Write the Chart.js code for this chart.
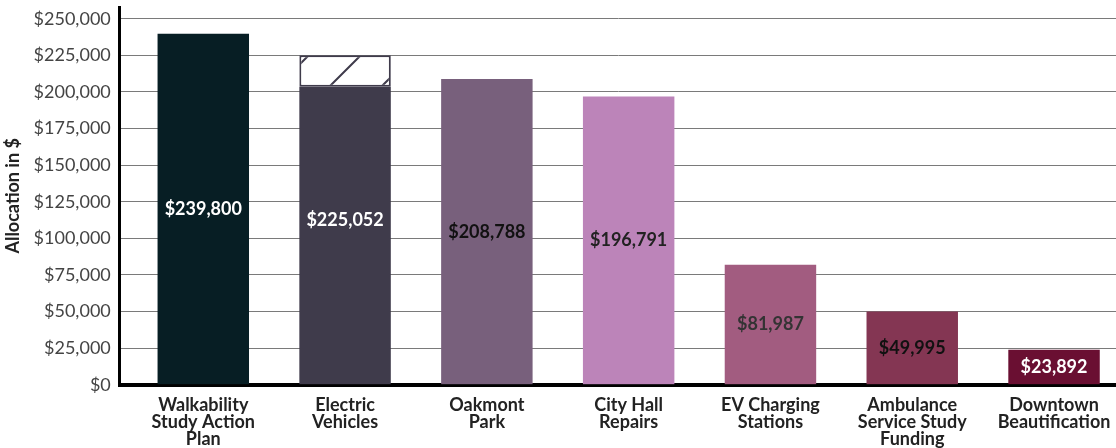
<!DOCTYPE html>
<html>
<head>
<meta charset="utf-8">
<script src="https://cdn.jsdelivr.net/npm/chart.js@4/dist/chart.umd.min.js"></script>
<style>
  html, body { margin: 0; padding: 0; background: #fff; }
  #wrap { width: 1116px; height: 448px; position: relative; }
</style>
</head>
<body>
<div id="wrap"><canvas id="chart" width="1116" height="448"></canvas></div>
<script>
// data
const categories = [
    ['Walkability', 'Study Action', 'Plan'],
    ['Electric', 'Vehicles'],
    ['Oakmont', 'Park'],
    ['City Hall', 'Repairs'],
    ['EV Charging', 'Stations'],
    ['Ambulance', 'Service Study', 'Funding'],
    ['Downtown', 'Beautification']
];
// solid part of each bar; Electric Vehicles has an outlined part on top
const solidValues = [239800, 203600, 208788, 196791, 81987, 49995, 23892];
const totalValues = [239800, 225052, 208788, 196791, 81987, 49995, 23892];
const hatchedIndex = [1];
const barColors = ['#071e24', '#3f3b4b', '#78607c', '#bc84b9', '#a25c80', '#843653', '#6a0f32'];
const labelColors = ['#ffffff', '#ffffff', '#111111', '#222222', '#333333', '#111111', '#ffffff'];
const yTicks = [0, 25000, 50000, 75000, 100000, 125000, 150000, 175000, 200000, 225000, 250000];

const FONT = 'Lato, "Open Sans", sans-serif';

function money(v) {
    return '$' + v.toLocaleString('en-US');
}

// diagonal line pattern for the hatched top part
function makeHatch() {
    const c = document.createElement('canvas');
    c.width = 52; c.height = 52;
    const g = c.getContext('2d');
    g.fillStyle = '#ffffff';
    g.fillRect(0, 0, 52, 52);
    g.strokeStyle = '#3f3b4b';
    g.lineWidth = 2;
    g.beginPath();
    g.moveTo(-4, 56); g.lineTo(56, -4);
    g.moveTo(48, 56); g.lineTo(56, 48);
    g.moveTo(-4, 4); g.lineTo(4, -4);
    g.stroke();
    return g.createPattern(c, 'repeat');
}

// labels drawn in the middle of each whole bar
const valueLabels = {
    id: 'valueLabels',
    afterDatasetsDraw(chart) {
        const ctx = chart.ctx;
        const y = chart.scales.y;
        const meta = chart.getDatasetMeta(0);
        ctx.save();
        ctx.font = 'bold 18px ' + FONT;
        ctx.textAlign = 'center';
        ctx.textBaseline = 'middle';
        totalValues.forEach((v, i) => {
            const bar = meta.data[i];
            const mid = (y.getPixelForValue(v) + y.getPixelForValue(0)) / 2;
            ctx.fillStyle = labelColors[i];
            ctx.fillText(money(v), bar.x, mid);
        });
        ctx.restore();
    }
};

const ctx = document.getElementById('chart').getContext('2d');
new Chart(ctx, {
    type: 'bar',
    data: {
        datasets: [{
            data: solidValues.map((v, i) => ({ x: i, y: v })),
            backgroundColor: barColors,
            borderWidth: 0,
            grouped: false,
            barPercentage: 0.645,
            categoryPercentage: 1
        }, {
            data: hatchedIndex.map(i => ({ x: i, y: [solidValues[i], totalValues[i]] })),
            backgroundColor: makeHatch(),
            borderColor: '#3f3b4b',
            borderWidth: 2,
            borderSkipped: false,
            grouped: false,
            barPercentage: 0.645,
            categoryPercentage: 1
        }]
    },
    options: {
        responsive: false,
        animation: false,
        devicePixelRatio: 1,
        layout: { padding: { top: 7, right: 0, left: 2, bottom: -12 } },
        plugins: {
            legend: { display: false },
            tooltip: { enabled: false }
        },
        scales: {
            x: {
                type: 'linear',
                offset: false,
                min: -0.589,
                max: 6.437,
                afterBuildTicks(axis) {
                    axis.ticks = categories.map((c, i) => ({ value: i }));
                },
                afterFit(axis) {
                    axis.paddingLeft = 0;
                    axis.paddingRight = 0;
                },
                grid: { display: false, drawTicks: false, offset: false },
                border: { color: '#000', width: 4 },
                ticks: {
                    color: '#222',
                    font: { family: FONT, size: 18, weight: 'bold', lineHeight: 0.95 },
                    padding: 12,
                    maxRotation: 0,
                    autoSkip: false,
                    callback: v => categories[v]
                }
            },
            y: {
                min: 0,
                max: 258000,
                afterBuildTicks(axis) {
                    axis.ticks = yTicks.map(v => ({ value: v }));
                },
                afterFit(axis) {
                    axis.paddingTop = 0;
                    axis.paddingBottom = 0;
                },
                grid: { color: '#7a7a7a', lineWidth: 1, drawTicks: false },
                border: { color: '#000', width: 3 },
                ticks: {
                    color: '#444',
                    font: { family: FONT, size: 18 },
                    padding: 9,
                    callback: v => money(v)
                },
                title: {
                    display: true,
                    text: 'Allocation in $',
                    color: '#222',
                    font: { family: FONT, size: 18, weight: 'bold' },
                    padding: { top: 0, bottom: 1 }
                }
            }
        }
    },
    plugins: [valueLabels]
});
</script>
</body>
</html>
